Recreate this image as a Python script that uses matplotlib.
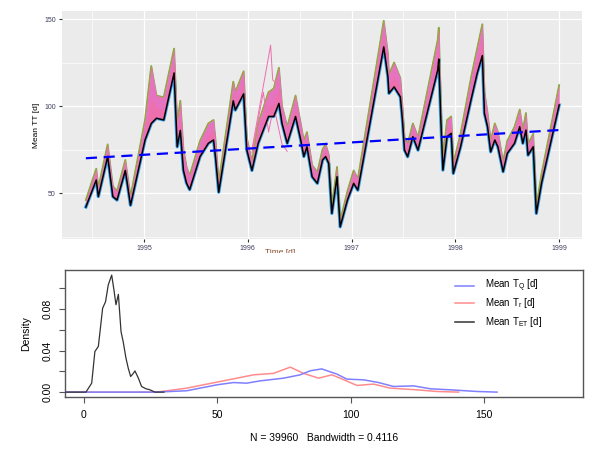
import matplotlib
matplotlib.use("Agg")
import matplotlib.pyplot as plt
from matplotlib.patches import Rectangle

plt.rcParams['font.family'] = ['Liberation Sans', 'DejaVu Sans']

''' top panel data: lower (black) member and top of the ensemble band '''
years = [1994.44, 1994.54, 1994.56, 1994.65, 1994.70, 1994.74, 1994.82, 1994.87,
         1995.01, 1995.07, 1995.12, 1995.19, 1995.29, 1995.32, 1995.35, 1995.38,
         1995.41, 1995.44, 1995.54, 1995.62, 1995.67, 1995.69, 1995.72, 1995.86,
         1995.88, 1995.96, 1995.99, 1996.04, 1996.10, 1996.20, 1996.25, 1996.30,
         1996.33, 1996.38, 1996.46, 1996.51, 1996.54, 1996.57, 1996.62, 1996.67,
         1996.72, 1996.75, 1996.78, 1996.81, 1996.86, 1996.89, 1996.96, 1997.02,
         1997.06, 1997.31, 1997.35, 1997.36, 1997.41, 1997.47, 1997.49, 1997.51,
         1997.54, 1997.59, 1997.64, 1997.83, 1997.84, 1997.86, 1997.88, 1997.92,
         1997.96, 1997.98, 1998.05, 1998.15, 1998.21, 1998.26, 1998.28, 1998.31,
         1998.34, 1998.38, 1998.41, 1998.46, 1998.50, 1998.57, 1998.62, 1998.65,
         1998.68, 1998.70, 1998.75, 1998.78, 1998.83, 1999.00]
tt_black = [42, 57.5, 48, 71, 48, 46, 63, 43,
            80.5, 90, 93, 92, 119, 76.6, 86, 63,
            55.7, 52, 71, 78.6, 80.5, 70, 50.5, 103,
            97.7, 107, 75, 63, 78.6, 94, 94, 101.5,
            90, 78.6, 94, 80.5, 71, 76.6, 59.4, 55.6,
            69, 71, 67, 38.3, 59.4, 30.6, 46, 55.6,
            51.7, 134, 116.8, 107.3, 111, 105.3, 92, 74.7,
            70.9, 82.4, 74.7, 120.7, 127, 92, 63.2, 82.4,
            84.3, 61.3, 76.6, 103.4, 118.8, 129, 95.8, 88.1,
            73.7, 80.5, 76.6, 62.3, 72.8, 78.6, 88.1, 78.6,
            86.2, 71.8, 76.6, 38.3, 55.6, 100.6]
tt_top = [46, 64, 53, 78, 54, 51, 69, 48,
          92, 123, 106, 105, 133, 90, 103, 75,
          65, 60, 80, 90, 92, 80, 56, 114,
          108, 120, 82, 68, 90, 108, 110, 122,
          100, 88, 106, 90, 80, 85, 66, 62,
          75, 78, 72, 42, 65, 34, 51, 63,
          58, 149, 130, 118, 125, 116, 100, 82,
          78, 90, 82, 138, 145, 100, 70, 92,
          94, 67, 84, 116, 133, 147, 108, 96,
          80, 90, 85, 68, 80, 88, 98, 86,
          96, 78, 84, 42, 61, 112]
# a few members drifting away in 1996
odd1_years = [1996.04, 1996.22, 1996.24, 1996.30]
odd1_tt = [75, 135, 115, 112]
odd2_years = [1996.04, 1996.15, 1996.20, 1996.25, 1996.33, 1996.38]
odd2_tt = [73, 108, 85, 100, 78, 74]
trend_years = [1994.44, 1999.0]
trend_tt = [70, 86.2]

''' bottom panel data: densities '''
x_et = [-10, 0.75, 2.9, 4.1, 5.4, 7.0, 8.1, 9.1, 10.4, 11.25, 12.0, 12.9, 13.9,
        14.7, 15.75, 16.6, 17.5, 18.5, 19.1, 20.4, 21.6, 23.25, 24.75, 26.6, 30]
d_et = [0, 0, 0.0086, 0.039, 0.044, 0.0806, 0.087, 0.103, 0.1125, 0.098, 0.084,
        0.094, 0.058, 0.0485, 0.0326, 0.023, 0.015, 0.018, 0.0204, 0.0134,
        0.0054, 0.0032, 0.0022, 0.0, 0.0]
x_r = [-10, 27.2, 38.5, 49.8, 58.5, 63.5, 71, 77.3, 82.3, 87.9, 92.9, 96,
       102.3, 108.5, 114.8, 124.8, 132.3, 140.4]
d_r = [0, 0, 0.0038, 0.0096, 0.014, 0.0166, 0.018, 0.024, 0.018, 0.0134, 0.0166,
       0.0134, 0.0064, 0.0077, 0.0038, 0.0022, 0.0006, 0]
x_q = [-10, 27, 38.5, 49.8, 56, 61, 66, 74.8, 81, 84.8, 89.1, 94.8, 98.5, 104.8,
       110.4, 116, 123.5, 129.8, 137.3, 147.3, 154.8]
d_q = [0, 0, 0.0013, 0.007, 0.0092, 0.0086, 0.0108, 0.0134, 0.0166, 0.0205,
       0.0223, 0.0173, 0.0125, 0.0118, 0.0092, 0.0054, 0.006, 0.0032, 0.0022,
       0.0006, 0]
legend_labels = ['Mean T$_\\mathregular{Q}$ [d]', 'Mean T$_\\mathregular{r}$ [d]',
                 'Mean T$_\\mathregular{ET}$ [d]']

fig = plt.figure(figsize=(6.12, 4.61), dpi=100)

''' top panel, ggplot look '''
ax = fig.add_axes([62/612, 1-239/461, 520/612, 228/461])
ax.set_facecolor('#EBEBEB')
for s in ax.spines.values():
    s.set_visible(False)
ax.set_xlim(1994.21, 1999.22)
ax.set_ylim(23.6, 154.6)
ax.set_xticks([1995, 1996, 1997, 1998, 1999])
ax.set_xticks([1994.5, 1995.5, 1996.5, 1997.5, 1998.5], minor=True)
ax.set_yticks([50, 100, 150])
ax.set_yticks([25, 75, 125], minor=True)
ax.grid(which='major', color='white', lw=0.9)
ax.grid(which='minor', color='white', lw=0.45)
ax.set_axisbelow(True)
ax.tick_params(which='major', labelsize=5, length=2.5, color='#333333',
               labelcolor='#3F3F5F', pad=2)
ax.tick_params(which='minor', length=0)
ax.set_ylabel('Mean TT [d]', fontsize=6, labelpad=3)

ax.plot(years, tt_black, color='#35A2F0', lw=2.4, zorder=2)
ax.plot(years, tt_top, color='#6DAF4C', lw=1.3, zorder=2)
ax.plot(years, tt_top, color='#C49A2C', lw=0.5, zorder=2.1)
ax.fill_between(years, tt_black, tt_top, color='#EE6FAE', lw=0, zorder=3)
ax.fill_between(years, [b + 0.45*(t - b) for b, t in zip(tt_black, tt_top)], tt_top,
                color='#D77CE0', alpha=0.35, lw=0, zorder=3.1)
ax.plot(odd1_years, odd1_tt, color='#EE6FAE', lw=0.7, zorder=3.2)
ax.plot(odd2_years, odd2_tt, color='#EE6FAE', lw=0.7, zorder=3.2)
ax.plot(years, tt_black, color='black', lw=1.1, zorder=4)
ax.plot(trend_years, trend_tt, color='blue', lw=1.6, ls=(0, (5, 3)), zorder=5)

# x label of the top plot, half hidden behind the lower plot
fig.text(280/612, 1-249/461, 'Time [d]', fontsize=6, color='#8A4A2A',
         ha='center', va='top', zorder=0.5)
fig.add_artist(Rectangle((0, 0), 1, 1-252.5/461, transform=fig.transFigure,
                         facecolor='white', edgecolor='none', zorder=1))

''' bottom panel, base R density look '''
ax2 = fig.add_axes([65/612, 1-397/461, 518/612, 127/461], zorder=2)
ax2.set_xlim(-7.1, 187)
ax2.set_ylim(-0.0047, 0.1174)
for s in ax2.spines.values():
    s.set_color('#555555')
    s.set_linewidth(1)
ax2.plot(x_q, d_q, color='#7F7FFF', lw=1.1, zorder=3)
ax2.plot(x_r, d_r, color='#FF8C8C', lw=1.1, zorder=2)
ax2.plot(x_et, d_et, color='#333333', lw=0.9, zorder=4)
ax2.set_xticks([0, 50, 100, 150])
ax2.set_yticks([0, 0.02, 0.04, 0.06, 0.08, 0.10])
ax2.set_yticklabels(['0.00', '', '0.04', '', '0.08', ''], rotation=90, va='center')
ax2.tick_params(labelsize=7.5, length=4, color='#555555', pad=5)
ax2.set_ylabel('Density', fontsize=7.5, labelpad=8)
ax2.set_xlabel('N = 39960   Bandwidth = 0.4116', fontsize=7.5, labelpad=10)

legend_colors = ['#7F7FFF', '#FF8C8C', '#333333']
legend_y = [0.876, 0.740, 0.593]
for lab, c, yy in zip(legend_labels, legend_colors, legend_y):
    ax2.plot([0.753, 0.790], [yy, yy], color=c, lw=1.1, transform=ax2.transAxes)
    ax2.text(0.811, yy, lab, fontsize=7, va='center', transform=ax2.transAxes)

fig.savefig('out.png', dpi=100)
